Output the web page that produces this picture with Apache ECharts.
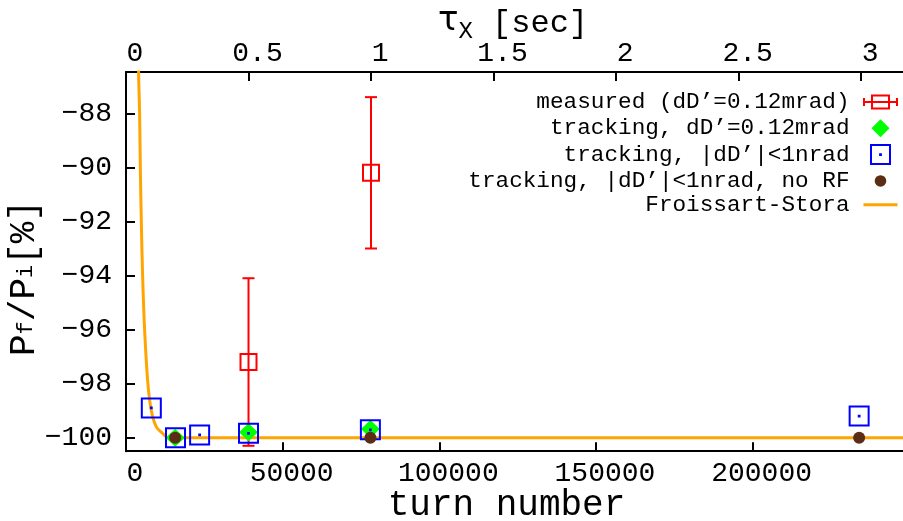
<!DOCTYPE html>
<html>
<head>
<meta charset="utf-8">
<script src="https://cdn.jsdelivr.net/npm/echarts@6/dist/echarts.min.js"></script>
<style>
  html, body { margin: 0; padding: 0; background: #fff; }
  #chart { width: 903px; height: 521px; }
</style>
</head>
<body>
<div id="chart"></div>
<script>
const MONO = '"Liberation Mono", "DejaVu Sans Mono", monospace';

// measured, with error bars (turns, value, low, high)
const measuredTurns = [39100, 78200];
const measuredVal = [-97.2, -90.2];
const measuredLow = [-100.3, -93.0];
const measuredHigh = [-94.1, -87.4];

// tracking, dD'=0.12mrad
const trackTurns = [15700, 39100, 78000];
const trackVal = [-100.0, -99.8, -99.68];

// tracking, |dD'|<1nrad
const nradTurns = [8080, 15800, 23500, 39100, 78000, 234000];
const nradVal = [-98.9, -100.0, -99.9, -99.84, -99.71, -99.2];

// tracking, no RF
const noRfTurns = [15700, 78000, 234000];
const noRfVal = [-100.0, -100.0, -100.0];

// Froissart-Stora curve
const fsTurns = [3800, 4020, 4340, 4570, 4890, 5300, 5940, 6990, 8080, 9670, 11780, 13380, 248000];
const fsVal = [-84, -86.5, -88, -90, -92, -94, -96, -98, -99, -99.6, -99.85, -100, -100];

const yTicks = [-100, -98, -96, -94, -92, -90, -88];
const turnTicks = [0, 50000, 100000, 150000, 200000];
const secTicks = [0, 0.5, 1, 1.5, 2, 2.5, 3];

const names = [
  'measured (dD’=0.12mrad)',
  'tracking, dD’=0.12mrad',
  'tracking, |dD’|<1nrad',
  'tracking, |dD’|<1nrad, no RF',
  'Froissart-Stora'
];

const SQUARE_DOT = 'path://M0 0H20V20H0Z M9.6 9.6H10.4V10.4H9.6Z';

// legend icons all share a 52x24 box (the two bare moves fix the bounds)
const BOX = 'M0 0M52 24';
const legendIcons = [
  'path://' + BOX + 'M9.5 12H42.5M9.5 8V16M42.5 8V16M17.5 5.5H34.5V18.5H17.5Z',
  'path://' + BOX + 'M26 3L35 12L26 21L17 12Z',
  'path://' + BOX + 'M16.5 2.5H35.5V21.5H16.5Z M25.6 11.6H26.4V12.4H25.6Z',
  'path://' + BOX + 'M20.2 12A5.8 5.8 0 1 1 31.8 12A5.8 5.8 0 1 1 20.2 12Z',
  'path://' + BOX + 'M9 10.5H43V13.5H9Z'
];
const legendStyles = [
  { color: 'none', borderColor: '#ff0000', borderWidth: 2 },
  { color: '#00ff00', borderWidth: 0 },
  { color: 'none', borderColor: '#0000ff', borderWidth: 2 },
  { color: '#5a2d14', borderWidth: 0 },
  { color: '#ffa500', borderWidth: 0 }
];

const pairs = (xs, ys) => xs.map((x, i) => [x, ys[i]]);
const plain = v => String(v).replace('-', '\u2212');

const chart = echarts.init(document.getElementById('chart'));

const axisLineStyle = { color: '#000', width: 2 };
const labelStyle = { fontFamily: MONO, fontSize: 28, color: '#000', lineHeight: 28 };

const option = {
  animation: false,
  backgroundColor: '#fff',
  grid: { left: 126, right: 0, top: 72, bottom: 69.8, containLabel: false, outerBoundsMode: 'none' },
  legend: {
    data: names.map((n, i) => ({ name: n, icon: legendIcons[i], itemStyle: legendStyles[i] })),
    orient: 'vertical',
    align: 'right',
    right: -6,
    top: 87.4,
    padding: 0,
    itemWidth: 52,
    itemHeight: 24,
    itemGap: -0.15,
    selectedMode: false,
    textStyle: { fontFamily: MONO, fontSize: 22.7, color: '#000', lineHeight: 24 }
  },
  xAxis: [
    {
      type: 'value', position: 'bottom', min: 0, max: 248000,
      axisLine: { show: true, onZero: false, lineStyle: axisLineStyle },
      axisTick: { show: true, inside: true, length: 9, customValues: turnTicks, lineStyle: axisLineStyle },
      axisLabel: Object.assign({ customValues: turnTicks, margin: 8, padding: [0, 0, 0, 18], formatter: plain }, labelStyle),
      splitLine: { show: false },
      name: 'turn number', nameLocation: 'middle', nameGap: 36, nameMoveOverlap: false,
      nameTextStyle: { fontFamily: MONO, fontSize: 36, color: '#000', lineHeight: 36, padding: [0, 16, 0, 0] }
    },
    {
      type: 'value', position: 'top', min: 0, max: 3.171,
      axisLine: { show: true, onZero: false, lineStyle: axisLineStyle },
      axisTick: { show: true, inside: true, length: 9, customValues: secTicks, lineStyle: axisLineStyle },
      axisLabel: Object.assign({ customValues: secTicks, margin: 4, padding: [0, 0, 0, 18], formatter: plain }, labelStyle),
      splitLine: { show: false }
    }
  ],
  yAxis: {
    type: 'value', min: -100.5, max: -86.47,
    axisLine: { show: true, onZero: false, lineStyle: axisLineStyle },
    axisTick: { show: true, inside: true, length: 9, customValues: yTicks, lineStyle: axisLineStyle },
    axisLabel: Object.assign({ customValues: yTicks, margin: 14, formatter: plain }, labelStyle),
    splitLine: { show: false }
  },
  graphic: [
    {
      type: 'text', x: 513, y: 21,
      style: {
        text: '{t|τ}{x|X}{b| [sec]}',
        align: 'center', verticalAlign: 'middle',
        rich: {
          t: { fontFamily: '"DejaVu Sans", sans-serif', fontSize: 34, fill: '#000' },
          x: { fontFamily: MONO, fontSize: 24, fill: '#000', padding: [22, 0, 0, 0] },
          b: { fontFamily: MONO, fontSize: 32, fill: '#000', padding: [6, 0, 0, 0] }
        }
      }
    },
    {
      type: 'text', x: 24, y: 278, rotation: Math.PI / 2,
      style: {
        text: '{p|P}{s|f}{p|/P}{s|i}{p|[%]}',
        align: 'center', verticalAlign: 'middle',
        rich: {
          p: { fontFamily: MONO, fontSize: 36, fill: '#000' },
          s: { fontFamily: MONO, fontSize: 22, fill: '#000', padding: [4, 0, 0, 0] }
        }
      }
    }
  ],
  series: [
    {
      name: names[4], type: 'line', z: 1,
      data: pairs(fsTurns, fsVal),
      showSymbol: false, symbol: 'none', smooth: 0.35,
      lineStyle: { color: '#ffa500', width: 3 },
      itemStyle: { color: '#ffa500' }
    },
    {
      name: names[0], type: 'custom', z: 2,
      data: measuredTurns.map((t, i) => [t, measuredVal[i], measuredLow[i], measuredHigh[i]]),
      encode: { x: 0, y: 1 },
      renderItem: (params, api) => {
        const c = api.coord([api.value(0), api.value(1)]);
        const lo = api.coord([api.value(0), api.value(2)]);
        const hi = api.coord([api.value(0), api.value(3)]);
        const s = { stroke: '#ff0000', lineWidth: 2, fill: 'none' };
        const half = 8, cap = 6;
        return {
          type: 'group',
          children: [
            { type: 'line', shape: { x1: c[0], y1: hi[1], x2: c[0], y2: lo[1] }, style: s },
            { type: 'line', shape: { x1: c[0] - cap, y1: hi[1], x2: c[0] + cap, y2: hi[1] }, style: s },
            { type: 'line', shape: { x1: c[0] - cap, y1: lo[1], x2: c[0] + cap, y2: lo[1] }, style: s },
            { type: 'rect', shape: { x: c[0] - half, y: c[1] - half, width: 2 * half, height: 2 * half }, style: s }
          ]
        };
      },
      itemStyle: { color: '#ff0000' }
    },
    {
      name: names[1], type: 'scatter', z: 3,
      data: pairs(trackTurns, trackVal),
      symbol: 'diamond', symbolSize: [19, 18],
      itemStyle: { color: '#00ff00', opacity: 1 }
    },
    {
      name: names[2], type: 'scatter', z: 4,
      data: pairs(nradTurns, nradVal),
      symbol: SQUARE_DOT, symbolSize: 19,
      itemStyle: { color: 'rgba(0,0,0,0)', borderColor: '#0000ff', borderWidth: 2, opacity: 1 }
    },
    {
      name: names[3], type: 'scatter', z: 5,
      data: pairs(noRfTurns, noRfVal),
      symbol: 'circle', symbolSize: 12,
      itemStyle: { color: '#5a2d14', opacity: 1 }
    }
  ]
};

chart.setOption(option);
</script>
</body>
</html>
